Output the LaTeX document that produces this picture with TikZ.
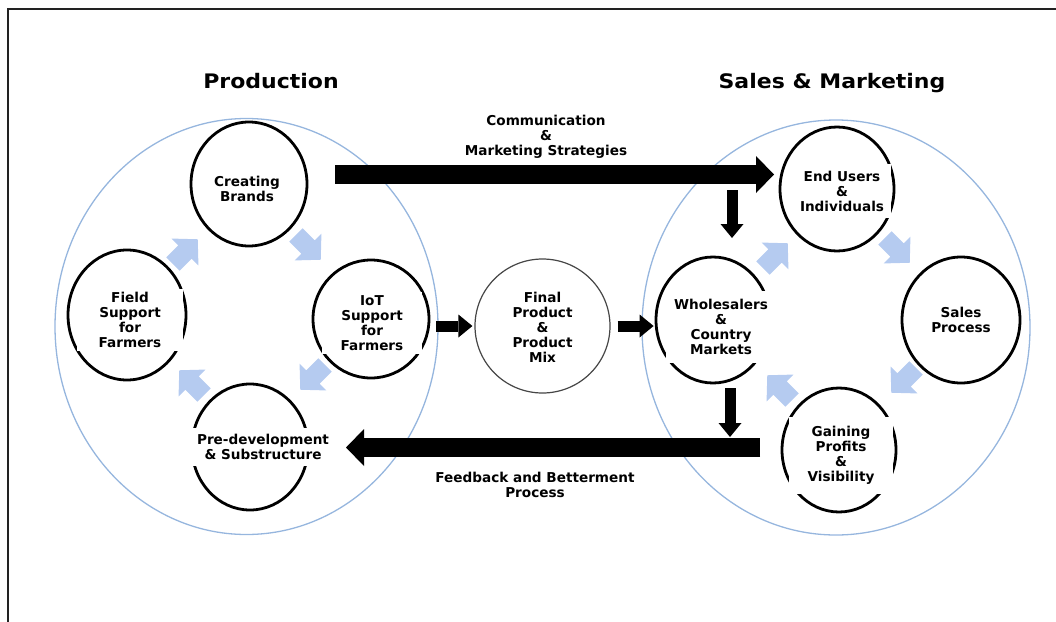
\documentclass[tikz,border=0pt]{standalone}
\usepackage{fontspec}
\setmainfont{DejaVu Sans}
\newfontfamily\headfont[FakeStretch=1.1]{DejaVu Sans}
\usetikzlibrary{shapes.geometric,arrows.meta}
\definecolor{ringblue}{RGB}{150,182,222}
\definecolor{flowblue}{RGB}{181,203,240}
\definecolor{framegray}{RGB}{34,34,34}
\definecolor{finalgray}{RGB}{70,70,70}
\begin{document}
\begin{tikzpicture}[x=1pt,y=-1pt,
  ring/.style={ellipse, draw=ringblue, line width=1.3pt, inner sep=0pt},
  stage/.style={ellipse, draw=black, line width=2.8pt, inner sep=0pt},
  lbl/.style={font=\fontsize{13.6}{15}\selectfont\bfseries, align=center, inner sep=0pt},
  boxed/.style={lbl, fill=white},
  head/.style={font=\headfont\fontsize{20}{24}\selectfont\bfseries, inner sep=0pt},
  bigarrow/.style={line width=19pt, -{Triangle[length=18pt,width=37pt,line width=0pt]}},
  smallarrow/.style={line width=11pt, -{Triangle[length=14pt,width=23pt,line width=0pt]}},
  flow/.pic={\fill[flowblue] (-17,-9.5) -- (0,-9.5) -- (0,-19) -- (18,0) -- (0,19) -- (0,9.5) -- (-17,9.5) -- cycle;}
]
\useasboundingbox (0,0) rectangle (1056,621);
% frame
\draw[line width=2.4pt, framegray] (1062,9) -- (8,9) -- (8,628);

% headings
\node[head, anchor=base] (hprod) at (271,88) {Production};
\node[head, anchor=base] (hsales) at (832,88) {Sales \& Marketing};

% big rings
\node[ring, minimum width=383pt, minimum height=416pt] (prod) at (246.5,326.5) {};
\node[ring, minimum width=388pt, minimum height=415pt] (sm) at (836,327.5) {};

% production stages
\node[stage, minimum width=116pt, minimum height=124pt] (brands) at (249,184) {};
\node[stage, minimum width=118pt, minimum height=130pt] (field) at (127,315) {};
\node[stage, minimum width=116pt, minimum height=118pt] (iot) at (371,319) {};
\node[stage, minimum width=116pt, minimum height=126pt] (predev) at (250,447) {};

% sales stages
\node[stage, minimum width=114pt, minimum height=124pt] (endu) at (837,189) {};
\node[stage, minimum width=118pt, minimum height=126pt] (sales) at (961,320) {};
\node[stage, minimum width=114pt, minimum height=126pt] (whole) at (713,320) {};
\node[stage, minimum width=114pt, minimum height=124pt] (gain) at (839,450) {};

% final product
\node[ellipse, draw=finalgray, line width=1.2pt, fill=white, minimum width=135pt, minimum height=134pt, inner sep=0pt] (final) at (542.5,326) {};

% texts
\node[lbl] (brandsT) at (247,189) {Creating\\Brands};
\node[boxed, minimum width=106pt, minimum height=62pt] (fieldT) at (130,320) {Field\\Support\\for\\Farmers};
\node[boxed, minimum width=100pt, minimum height=62pt] (iotT) at (372,323) {IoT\\Support\\for\\Farmers};
\node[boxed, inner xsep=8pt, minimum height=38pt] (predevT) at (263,447) {Pre-development\\\& Substructure};
\node[boxed, minimum width=98pt, minimum height=54pt] (enduT) at (842,191) {End Users\\\&\\Individuals};
\node[lbl] (salesT) at (961,320) {Sales\\Process};
\node[boxed, minimum width=110pt, minimum height=72pt] (wholeT) at (721,327) {Wholesalers\\\&\\Country\\Markets};
\node[boxed, minimum width=104pt, minimum height=77pt] (gainT) at (841,455) {Gaining\\Profits\\\&\\Visibility};
\node[lbl] (finalT) at (542.5,327) {Final\\Product\\\&\\Product\\Mix};

\node[lbl] (comm) at (546,137) {Communication\\\&\\Marketing Strategies};
\node[lbl] (fb) at (535,485) {Feedback and Betterment\\Process};

% light blue cycle arrows
\pic[rotate=45] (f1) at (185,252) {flow};
\pic[rotate=-45] (f2) at (308,247) {flow};
\pic[rotate=-135] (f3) at (313,377) {flow};
\pic[rotate=135] (f4) at (192,383) {flow};
\pic[rotate=45] (f5) at (775,256) {flow};
\pic[rotate=-45] (f6) at (897,250) {flow};
\pic[rotate=-135] (f7) at (904,380) {flow};
\pic[rotate=135] (f8) at (780,388) {flow};

% black arrows
\coordinate (topA) at (335,174.5);
\coordinate (topB) at (774,174.5);
\draw[bigarrow] (topA) -- (topB);
\coordinate (botA) at (760,447.5);
\coordinate (botB) at (346,447.5);
\draw[bigarrow] (botA) -- (botB);

\draw[smallarrow] ([xshift=6pt]iot.east |- final.west) -- ([xshift=-2pt]final.west);
\draw[smallarrow] ([xshift=7pt]final.east) -- ([xshift=-1pt]final.east -| whole.west);

\coordinate (dnA) at (732,190);
\coordinate (dnB) at (732,238);
\draw[smallarrow] (dnA) -- (dnB);
\coordinate (dn2A) at (730,388);
\coordinate (dn2B) at (730,437);
\draw[smallarrow] (dn2A) -- (dn2B);
\end{tikzpicture}
\end{document}
